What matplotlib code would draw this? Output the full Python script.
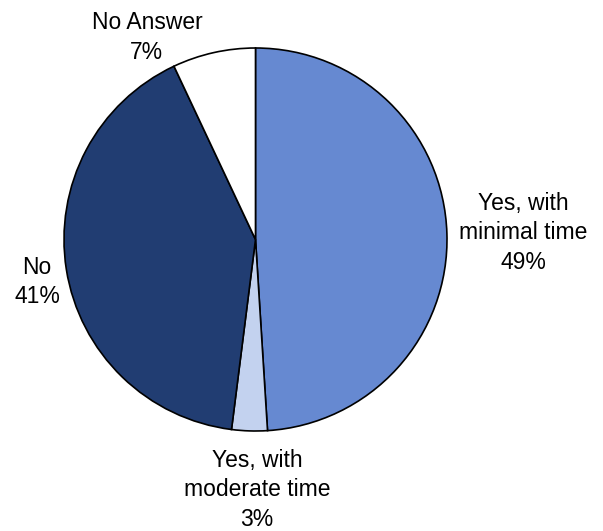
import matplotlib.pyplot as plt

# data
labels = ["Yes, with\nminimal time", "Yes, with\nmoderate time", "No", "No Answer"]
shares = [49, 3, 41, 7]
colors = ["#6689D1", "#C3D2EF", "#213D72", "#FFFFFF"]

# label placement (pie radius units)
label_pos = [(1.397, 0.034), (0.008, -1.308), (-1.141, -0.222), (-0.567, 1.057)]

W, H = 603, 531
cx, cy, r = 255.5, 239.5, 191.5

fig = plt.figure(figsize=(W / 100, H / 100), dpi=100)
ax = fig.add_axes([0, 0, 1, 1])

wedges, _ = ax.pie(shares, colors=colors, startangle=90, counterclock=False,
                   radius=1.0, wedgeprops=dict(edgecolor="black", linewidth=1.2))

for lab, val, (x, y) in zip(labels, shares, label_pos):
    ax.text(x, y, f"{lab}\n{val}%", ha="center", va="center",
            fontsize=16.5, family="Liberation Sans", linespacing=1.38)

ax.set_xlim(-cx / r, (W - cx) / r)
ax.set_ylim((cy - H) / r, cy / r)
ax.set_aspect("equal")
ax.axis("off")

fig.savefig("out.png", dpi=100)
